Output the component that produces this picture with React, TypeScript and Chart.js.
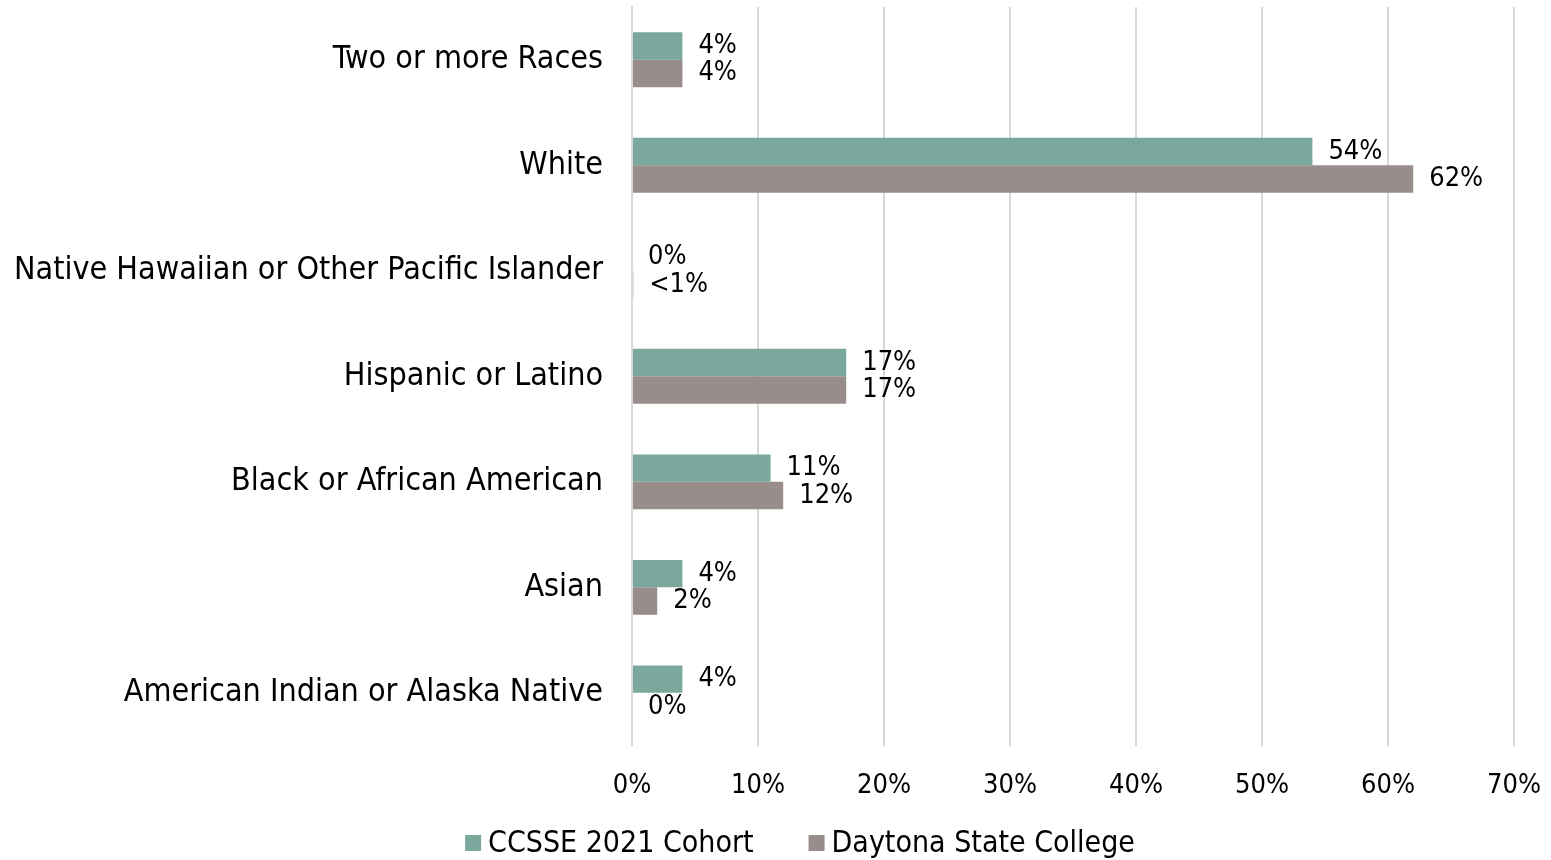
import React, { useEffect, useRef } from "react";
import { Chart, registerables } from "chart.js";

Chart.register(...registerables);

const categories = [
  "Two or more Races",
  "White",
  "Native Hawaiian or Other Pacific Islander",
  "Hispanic or Latino",
  "Black or African American",
  "Asian",
  "American Indian or Alaska Native",
];
const seriesNames = ["CCSSE 2021 Cohort", "Daytona State College"];
const ccsseValues = [4, 54, 0, 17, 11, 4, 4];
const daytonaValues = [4, 62, 0.1, 17, 12, 2, 0];
const ccsseLabels = ["4%", "54%", "0%", "17%", "11%", "4%", "4%"];
const daytonaLabels = ["4%", "62%", "<1%", "17%", "12%", "2%", "0%"];
const xTicks = [0, 10, 20, 30, 40, 50, 60, 70];

const COLORS = ["#7BA89D", "#998D8C"];
const TEXT_FONT = "'DejaVu Sans Condensed', 'DejaVu Sans', sans-serif";
const NUM_FONT = "'DejaVu Sans Condensed', 'DejaVu Sans', sans-serif";

const valueLabelPlugin = {
  id: "valueLabels",
  afterDatasetsDraw(chart: any) {
    const ctx = chart.ctx;
    const labelSets = [ccsseLabels, daytonaLabels];
    ctx.save();
    ctx.font = `27px ${NUM_FONT}`;
    ctx.fillStyle = "#000";
    ctx.textAlign = "left";
    ctx.textBaseline = "middle";
    chart.data.datasets.forEach((_: any, di: number) => {
      const meta = chart.getDatasetMeta(di);
      meta.data.forEach((el: any, i: number) => {
        ctx.fillText(labelSets[di][i], el.x + 16, el.y);
      });
    });
    ctx.restore();
  },
};

const customLegendPlugin = {
  id: "customLegend",
  afterDraw(chart: any) {
    const ctx = chart.ctx;
    ctx.save();
    ctx.font = `30px ${TEXT_FONT}`;
    ctx.textBaseline = "middle";
    ctx.textAlign = "left";
    const box = 16;
    const gap = 7;
    const itemGap = 55;
    const widths = seriesNames.map((n) => ctx.measureText(n).width);
    const total =
      widths.reduce((a, w) => a + box + gap + w, 0) + itemGap * (seriesNames.length - 1);
    let x = 800 - total / 2;
    const y = 843;
    seriesNames.forEach((name, i) => {
      ctx.fillStyle = COLORS[i];
      ctx.fillRect(x, y - box / 2, box, box);
      ctx.fillStyle = "#000";
      ctx.fillText(name, x + box + gap, y + 1);
      x += box + gap + widths[i] + itemGap;
    });
    ctx.restore();
  },
};

export default function App() {
  const ref = useRef<HTMLCanvasElement>(null);
  useEffect(() => {
    document.body.style.margin = "0";
    const chart = new Chart(ref.current!, {
      type: "bar",
      data: {
        labels: categories,
        datasets: [
          {
            label: seriesNames[0],
            data: ccsseValues,
            backgroundColor: COLORS[0],
            categoryPercentage: 0.52,
            barPercentage: 1,
          },
          {
            label: seriesNames[1],
            data: daytonaValues,
            backgroundColor: COLORS[1],
            categoryPercentage: 0.52,
            barPercentage: 1,
          },
        ],
      },
      options: {
        indexAxis: "y",
        animation: false,
        responsive: false,
        maintainAspectRatio: false,
        layout: { padding: { top: 7, right: 37, left: 0, bottom: 34 } },
        scales: {
          x: {
            min: 0,
            max: 70,
            afterBuildTicks(scale: any) {
              scale.ticks = xTicks.map((v) => ({ value: v }));
            },
            afterFit(scale: any) {
              scale.paddingLeft = 0;
              scale.paddingRight = 0;
            },
            ticks: {
              callback: (v: any) => `${v}%`,
              font: { family: NUM_FONT, size: 27 },
              color: "#000",
              padding: 24,
            },
            grid: { color: "#D9D9D9", lineWidth: 2, drawTicks: false },
            border: { display: false },
          },
          y: {
            afterFit(scale: any) {
              scale.width = 632;
              scale.paddingTop = 0;
              scale.paddingBottom = 0;
            },
            ticks: {
              font: { family: TEXT_FONT, size: 32 },
              color: "#000",
              padding: 29,
            },
            grid: { display: false, drawTicks: false },
            border: { display: true, color: "#D9D9D9", width: 2 },
          },
        },
        plugins: {
          legend: { display: false },
          tooltip: { enabled: false },
        },
      },
      plugins: [valueLabelPlugin, customLegendPlugin],
    });
    return () => chart.destroy();
  }, []);
  return (
    <div style={{ width: 1551, height: 860 }}>
      <canvas ref={ref} width={1551} height={860} style={{ display: "block" }} />
    </div>
  );
}
